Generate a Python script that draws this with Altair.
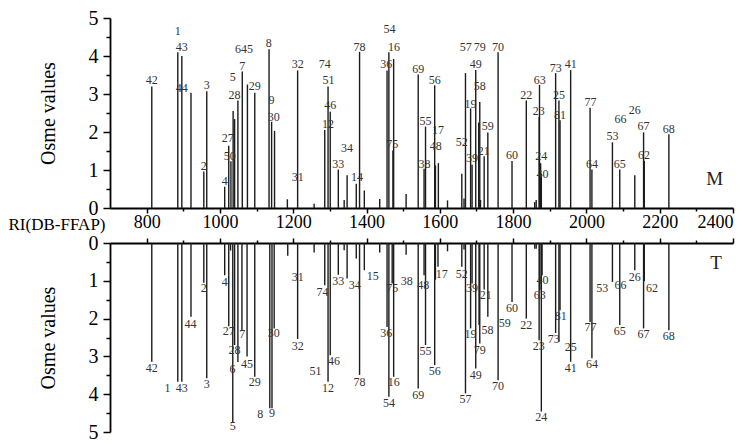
import altair as alt
import pandas as pd

FONT = "Liberation Serif"

# ---- M (upper panel): peaks as (RI, Osme value)
m_peaks = [
    (814, 3.2), (885, 4.1), (896, 4.0), (921, 3.03), (956, 0.96), (964, 3.07),
    (1013, 0.56), (1024, 1.64), (1030, 1.23), (1036, 2.55), (1040, 2.34), (1049, 2.83),
    (1061, 3.59), (1075, 3.25), (1095, 3.03), (1134, 4.18), (1141, 2.27), (1149, 2.03),
    (1184, 0.23), (1212, 3.62), (1257, 0.11), (1286, 2.05), (1295, 3.2), (1301, 2.53),
    (1323, 1.01), (1339, 0.21), (1347, 0.86), (1372, 0.64), (1381, 4.11), (1394, 0.46),
    (1436, 0.24), (1456, 3.62), (1461, 4.1), (1472, 1.51), (1474, 3.92), (1508, 0.37),
    (1541, 3.51), (1557, 1.03), (1561, 2.14), (1586, 3.23), (1588, 1.12), (1596, 1.18),
    (1621, 0.2), (1660, 0.9), (1666, 0.25), (1670, 3.55), (1684, 2.62), (1688, 1.14),
    (1698, 3.63), (1706, 2.25), (1709, 2.79), (1711, 0.21), (1721, 1.36), (1731, 1.99),
    (1759, 4.1), (1797, 1.24), (1836, 2.83), (1859, 0.16), (1863, 0.21), (1871, 2.4),
    (1872, 3.24), (1875, 1.18), (1877, 0.9), (1916, 3.55), (1925, 2.83), (1928, 2.31),
    (1957, 3.63), (2010, 2.64), (2015, 1.01), (2071, 1.73), (2091, 1.01), (2132, 0.86),
    (2156, 1.99), (2158, 1.24), (2225, 1.94),
]
# peak numbers (label, RI, Osme value where the number sits)
m_labels = [
    ("42", 814, 3.36), ("1", 885, 4.67), ("43", 896, 4.25), ("44", 896, 3.16),
    ("3", 964, 3.23), ("2", 956, 1.1), ("4", 1013, 0.7), ("27", 1021, 1.83),
    ("50", 1027, 1.36), ("5", 1035, 3.44), ("28", 1040, 2.98), ("7", 1061, 3.75),
    ("6", 1049, 4.18), ("45", 1074, 4.18), ("29", 1095, 3.2), ("8", 1133, 4.34),
    ("9", 1141, 2.83), ("30", 1147, 2.4), ("32", 1212, 3.79), ("31", 1212, 0.82),
    ("74", 1286, 3.79), ("51", 1296, 3.36), ("46", 1301, 2.7), ("12", 1295, 2.2),
    ("34", 1347, 1.59), ("33", 1323, 1.16), ("14", 1374, 0.81), ("78", 1381, 4.25),
    ("36", 1454, 3.79), ("54", 1463, 4.7), ("16", 1475, 4.25), ("75", 1470, 1.68),
    ("69", 1541, 3.66), ("55", 1561, 2.3), ("38", 1558, 1.17), ("56", 1586, 3.38),
    ("17", 1595, 2.05), ("48", 1589, 1.62), ("52", 1660, 1.73), ("57", 1671, 4.23),
    ("19", 1684, 2.75), ("39", 1688, 1.31), ("79", 1709, 4.23), ("49", 1698, 3.79),
    ("58", 1709, 3.21), ("21", 1720, 1.49), ("59", 1731, 2.16), ("70", 1759, 4.24),
    ("60", 1797, 1.4), ("22", 1836, 2.98), ("63", 1873, 3.38), ("23", 1870, 2.56),
    ("24", 1877, 1.36), ("40", 1880, 0.9), ("73", 1916, 3.69), ("25", 1925, 2.98),
    ("81", 1928, 2.46), ("41", 1957, 3.79), ("77", 2011, 2.79), ("64", 2015, 1.17),
    ("53", 2071, 1.9), ("65", 2091, 1.16), ("66", 2093, 2.34), ("26", 2132, 2.59),
    ("67", 2156, 2.16), ("62", 2157, 1.4), ("68", 2225, 2.09),
]
m_name = [("M", 2350, 0.77)]

# ---- T (lower panel)
t_peaks = [
    (814, 3.14), (885, 3.67), (896, 3.67), (921, 1.95), (956, 1.05), (964, 3.58),
    (1013, 0.85), (1024, 2.2), (1029, 0.2), (1035, 4.75), (1040, 2.7), (1049, 3.15),
    (1060, 2.33), (1074, 3.0), (1095, 3.54), (1136, 4.37), (1142, 4.37), (1148, 2.26),
    (1185, 0.34), (1212, 2.54), (1257, 0.25), (1286, 1.12), (1295, 3.67), (1301, 2.97),
    (1323, 0.84), (1339, 0.19), (1347, 0.94), (1372, 0.41), (1381, 3.49), (1394, 0.72),
    (1436, 0.25), (1456, 2.22), (1461, 4.07), (1470, 1.07), (1474, 3.54), (1508, 0.31),
    (1541, 3.85), (1557, 0.85), (1561, 2.7), (1586, 3.23), (1588, 0.97), (1595, 0.63),
    (1621, 0.22), (1660, 0.63), (1666, 0.17), (1670, 3.98), (1684, 2.26), (1688, 1.07),
    (1698, 3.32), (1707, 2.17), (1709, 2.66), (1721, 1.23), (1731, 1.95), (1759, 3.63),
    (1797, 1.56), (1836, 2.0), (1859, 0.15), (1863, 0.15), (1871, 2.57), (1873, 1.25),
    (1877, 4.46), (1879, 0.85), (1916, 2.38), (1925, 2.61), (1928, 1.78), (1957, 3.14),
    (2010, 2.09), (2015, 3.05), (2071, 1.03), (2091, 2.17), (2132, 0.72), (2156, 2.26),
    (2158, 1.01), (2225, 2.31),
]
t_labels = [
    ("42", 814, 3.3), ("1", 857, 3.83), ("43", 896, 3.83), ("44", 920, 2.13),
    ("2", 956, 1.2), ("3", 964, 3.74), ("4", 1013, 1.03), ("27", 1024, 2.32),
    ("5", 1035, 4.84), ("28", 1040, 2.83), ("6", 1034, 3.34), ("7", 1061, 2.41),
    ("45", 1074, 3.2), ("29", 1095, 3.69), ("8", 1110, 4.52), ("9", 1142, 4.49),
    ("30", 1147, 2.39), ("32", 1212, 2.73), ("31", 1212, 0.91), ("74", 1280, 1.29),
    ("51", 1261, 3.38), ("12", 1295, 3.83), ("46", 1311, 3.12), ("33", 1323, 1.01),
    ("34", 1368, 1.1), ("78", 1381, 3.67), ("15", 1417, 0.87), ("36", 1454, 2.38),
    ("54", 1461, 4.23), ("16", 1474, 3.69), ("75", 1470, 1.19), ("38", 1510, 1.01),
    ("69", 1541, 4.02), ("48", 1555, 1.1), ("55", 1561, 2.86), ("56", 1586, 3.39),
    ("17", 1605, 0.81), ("52", 1660, 0.83), ("57", 1670, 4.14), ("19", 1684, 2.42),
    ("39", 1688, 1.2), ("49", 1698, 3.48), ("79", 1709, 2.82), ("58", 1730, 2.31),
    ("21", 1725, 1.38), ("59", 1777, 2.11), ("70", 1759, 3.78), ("60", 1797, 1.72),
    ("22", 1836, 2.17), ("40", 1880, 0.98), ("63", 1873, 1.38), ("23", 1870, 2.73),
    ("24", 1877, 4.61), ("73", 1911, 2.53), ("81", 1930, 1.93), ("25", 1957, 2.76),
    ("41", 1957, 3.3), ("77", 2011, 2.22), ("64", 2015, 3.2), ("53", 2043, 1.19),
    ("66", 2093, 1.12), ("65", 2091, 2.32), ("26", 2132, 0.91), ("62", 2179, 1.19),
    ("67", 2156, 2.42), ("68", 2225, 2.46),
]
t_name = [("T", 2354, 0.54)]

x_ticks = list(range(800, 2401, 100))
y_ticks = [0, 0.5, 1, 1.5, 2, 2.5, 3, 3.5, 4, 4.5, 5]

W, H1, H2 = 623, 190, 189


def panel(peaks, labels, name, top, height):
    pk = pd.DataFrame(peaks, columns=["ri", "v"])
    lb = pd.DataFrame(labels, columns=["label", "ri", "v"])
    nm = pd.DataFrame(name, columns=["label", "ri", "v"])

    tick_x = {"condition": {"test": "datum.value % 200 != 0", "value": 3}, "value": 5}
    if top:
        xaxis = alt.Axis(
            orient="bottom", values=x_ticks, format="d", labelOverlap=False,
            labelExpr="datum.value % 200 == 0 ? datum.label : ''",
            labelFont=FONT, labelFontSize=18, labelColor="black", labelPadding=0,
            tickSize=tick_x,
            tickColor="black", tickWidth=1.5, domainColor="black", domainWidth=1.8,
            grid=False, title="RI(DB-FFAP)", titleFont=FONT, titleFontSize=17,
            titleFontWeight="normal", titleColor="black", titleAngle=0,
            titleAlign="right", titleBaseline="middle", titleX=-5, titleY=16,
        )
    else:
        xaxis = alt.Axis(
            orient="top", values=x_ticks, labels=False, title=None,
            tickSize=tick_x,
            tickColor="black", tickWidth=1.5, domainColor="black", domainWidth=1.8,
            grid=False,
        )
    yaxis = alt.Axis(
        values=y_ticks, labelOverlap=False, labelBound=False, labelFlush=False,
        labelExpr="datum.value % 1 == 0 ? format(datum.value, 'd') : ''",
        labelFont=FONT, labelFontSize=20, labelColor="black", labelPadding=5,
        tickSize={"condition": {"test": "datum.value % 1 != 0", "value": 4}, "value": 7},
        tickColor="black", tickWidth=1.5, domainColor="black", domainWidth=1.8,
        grid=False, title="Osme values", titleFont=FONT, titleFontSize=20,
        titleFontWeight="normal", titleColor="black",
        titleX=-62, titleY=height / 2, titleAlign="center", titleBaseline="middle",
        titleAngle=270,
    )
    xs = alt.Scale(domain=[700, 2400], nice=False, zero=False)
    ys = alt.Scale(domain=[0, 5], nice=False, reverse=not top)

    X = alt.X("ri:Q", scale=xs, axis=xaxis, title=xaxis.title if top else None)
    Y = alt.Y("v:Q", scale=ys, axis=yaxis, title="Osme values")

    bars = alt.Chart(pk).mark_rule(color="#1c1c1c", strokeWidth=1.4).encode(
        x=X, y=Y, y2=alt.datum(0),
    )
    texts = alt.Chart(lb).mark_text(
        font=FONT, fontSize=12, color="#333333", align="center", baseline="middle"
    ).encode(x=X, y=Y, text="label:N")
    nmt = alt.Chart(nm).mark_text(
        font=FONT, fontSize=19, color="#222222", align="center", baseline="middle"
    ).encode(x=X, y=Y, text="label:N")
    return alt.layer(bars, texts, nmt).properties(width=W, height=height)


top_chart = panel(m_peaks, m_labels, m_name, True, H1)
bot_chart = panel(t_peaks, t_labels, t_name, False, H2)

chart = alt.vconcat(top_chart, bot_chart, spacing=35, bounds="flush").properties(
    padding={"left": 0, "top": 0, "right": 2, "bottom": 0},
    background="white",
).configure_view(stroke=None)

chart.save("out.html", embed_options={"renderer": "svg", "actions": False})
